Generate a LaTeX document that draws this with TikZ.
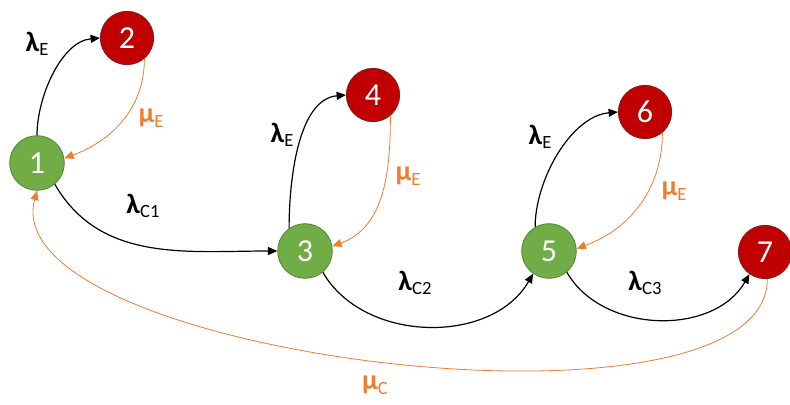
\documentclass[tikz,border=0pt]{standalone}
\usepackage{fontspec}
\setmainfont{Carlito}
\usetikzlibrary{arrows.meta}
\definecolor{stateGreen}{RGB}{112,173,71}
\definecolor{stateGreenEdge}{RGB}{84,130,53}
\definecolor{stateRed}{RGB}{192,0,0}
\definecolor{stateRedEdge}{RGB}{130,30,30}
\definecolor{rateOrange}{RGB}{237,125,49}
\newcommand{\ratelbl}[2]{\textbf{#1}\raisebox{-0.35ex}{\fontsize{14}{14}\selectfont #2}}

\begin{document}
\begin{tikzpicture}[x=0.75pt, y=-0.75pt,
  every node/.style={font=\fontsize{21}{24}\selectfont},
  upstate/.style={circle, draw=stateGreenEdge, fill=stateGreen, text=white, minimum size=41pt, inner sep=0pt, line width=0.6pt, font=\fontsize{24}{26}\selectfont},
  downstate/.style={circle, draw=stateRedEdge, fill=stateRed, text=white, minimum size=40pt, inner sep=0pt, line width=0.6pt, font=\fontsize{24}{26}\selectfont},
  fault/.style={draw=black, line width=0.9pt, -{Triangle[length=7pt,width=6pt]}},
  repair/.style={draw=rateOrange, line width=0.6pt, -{Triangle[length=7pt,width=6pt]}},
  faultlbl/.style={text=black},
  repairlbl/.style={text=rateOrange}]
  \useasboundingbox (0,0) rectangle (790,404);
  % States
  \node[upstate] (n1) at (37,163) {1};
  \node[downstate] (n2) at (127,38) {2};
  \node[upstate] (n3) at (305,251) {3};
  \node[downstate] (n4) at (373,95) {4};
  \node[upstate] (n5) at (549,251) {5};
  \node[downstate] (n6) at (645,112) {6};
  \node[downstate] (n7) at (765,252) {7};
  % Failure transitions
  \draw[fault] (n1.north) to[out=90,in=185,looseness=0.85] (n2.west);
  \draw[fault] (n3.125) to[out=90,in=185,looseness=0.85] (n4.west);
  \draw[fault] (n5.120) to[out=90,in=185,looseness=0.85] (n6.west);
  \draw[fault] (n1.-50) to[out=-60,in=180] (n3.west);
  \draw[fault] (n3.-50) to[out=-60,in=-120] (n5.-125);
  \draw[fault] (n5.-50) to[out=-60,in=-120] (n7.-125);
  % Repair transitions
  \draw[repair] (n2.-50) to[out=-90,in=20] (n1.10);
  \draw[repair] (n4.-50) to[out=-90,in=20] (n3.10);
  \draw[repair] (n6.-50) to[out=-90,in=20] (n5.5);
  \draw[repair] (n7.-85) to[out=-90,in=-105,looseness=0.6] (n1.south);
  % Rate labels
  \node[faultlbl] (l12) at (37,44) {\ratelbl{λ}{E}};
  \node[faultlbl] (l34) at (282,135) {\ratelbl{λ}{E}};
  \node[faultlbl] (l56) at (540,137) {\ratelbl{λ}{E}};
  \node[faultlbl] (l13) at (143,206) {\ratelbl{λ}{C1}};
  \node[faultlbl] (l35) at (415,283) {\ratelbl{λ}{C2}};
  \node[faultlbl] (l57) at (645,283) {\ratelbl{λ}{C3}};
  \node[repairlbl] (l21) at (151,118) {\ratelbl{μ}{E}};
  \node[repairlbl] (l43) at (408,176) {\ratelbl{μ}{E}};
  \node[repairlbl] (l65) at (674,191) {\ratelbl{μ}{E}};
  \node[repairlbl] (l71) at (375,385) {\ratelbl{μ}{C}};
\end{tikzpicture}
\end{document}
